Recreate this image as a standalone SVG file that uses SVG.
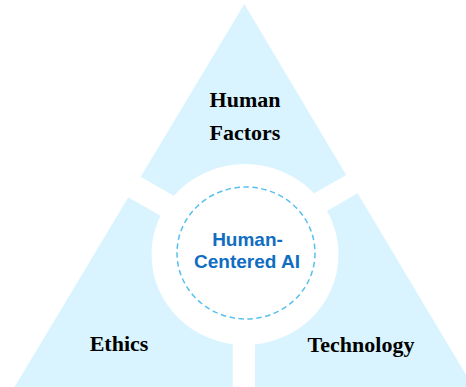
<svg xmlns="http://www.w3.org/2000/svg" width="466" height="387" viewBox="0 0 466 387">
  <style>
    .piece { fill: #d9f4fe; stroke: none; }
    .label { font-family: "Liberation Serif", "Times New Roman", serif; font-weight: bold; font-size: 22px; fill: #000000; text-anchor: middle; }
    .core { font-family: "Liberation Sans", Arial, sans-serif; font-weight: bold; font-size: 19px; fill: #0f6dc2; text-anchor: middle; }
  </style>
  <rect x="0" y="0" width="466" height="387" fill="#ffffff"/>
  <g id="connectors"></g>
  <g id="human-factors">
    <polygon class="piece" points="244.3,4 346.2,175 260,224.5 230,228.2 140.7,176.7"/>
    <text class="label" x="245" y="107">Human</text>
    <text class="label" x="245" y="140">Factors</text>
  </g>
  <g id="ethics">
    <polygon class="piece" points="128.3,197.3 230,256 232.7,300 232.7,387 14.5,387"/>
    <text class="label" x="119" y="351">Ethics</text>
  </g>
  <g id="technology">
    <polygon class="piece" points="357.6,193.3 473.3,387 255,387 255,300 260,249.7"/>
    <text class="label" x="361" y="352">Technology</text>
  </g>
  <g id="human-centered-ai">
    <ellipse cx="245" cy="254.5" rx="93.5" ry="90.5" fill="#ffffff"/>
    <ellipse cx="246" cy="253" rx="69" ry="66" fill="none" stroke="#58c0ee" stroke-width="1.5" stroke-dasharray="5.5 3.5"/>
    <text class="core" x="247.5" y="246">Human-</text>
    <text class="core" x="247" y="268">Centered AI</text>
  </g>
</svg>
